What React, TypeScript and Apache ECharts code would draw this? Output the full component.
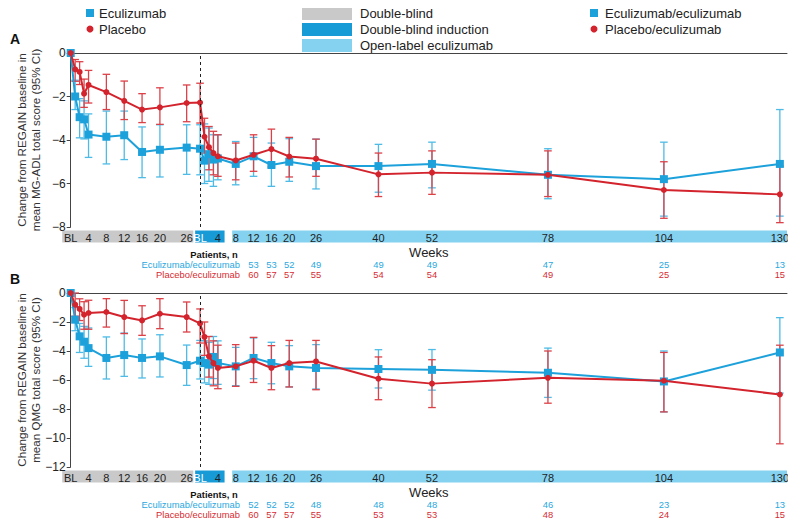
import React, { useEffect, useRef } from "react";
import * as echarts from "echarts";

const OLE_OFFSET = 29;
const X_MAX = 160.6;
const dbWeeks = [0, 1, 2, 3, 4, 8, 12, 16, 20, 26];
const oleWeeks = [0, 1, 2, 3, 4, 8, 12, 16, 20, 26, 40, 52, 78, 104, 130];
const dbTickWeeks = [0, 4, 8, 12, 16, 20, 26];
const oleTickWeeks = [0, 4, 8, 12, 16, 20, 26, 40, 52, 78, 104, 130];
const countWeeks = [12, 16, 20, 26, 40, 52, 78, 104, 130];

// Panel A (MG-ADL)
const aEcuDbMean = [0, -2.0, -2.95, -3.05, -3.75, -3.85, -3.78, -4.55, -4.45, -4.35];
const aEcuDbHi = [0, -1.25, -2.1, -2.2, -2.8, -2.67, -2.67, -3.4, -3.3, -3.3];
const aEcuDbLo = [0, -2.6, -3.9, -3.95, -4.8, -5.1, -4.9, -5.73, -5.7, -5.58];
const aEcuOleMean = [-4.4, -4.95, -4.65, -4.9, -4.85, -5.1, -4.75, -5.15, -5.0, -5.2, -5.2, -5.1, -5.6, -5.8, -5.1];
const aEcuOleHi = [-3.3, -3.26, -3.45, -3.76, -3.76, -4.07, -3.88, -4.14, -3.94, -3.96, -4.2, -4.1, -4.4, -4.1, -2.6];
const aEcuOleLo = [-5.6, -6.0, -5.9, -6.13, -5.83, -6.06, -5.67, -6.13, -5.9, -6.25, -6.4, -6.2, -6.7, -7.5, -7.5];
const aPlaDbMean = [0, -0.75, -0.87, -1.87, -1.47, -1.8, -2.2, -2.6, -2.5, -2.3];
const aPlaDbHi = [0, -0.3, -0.4, -1.2, -0.8, -0.98, -1.29, -1.87, -1.6, -1.47];
const aPlaDbLo = [0, -1.3, -1.45, -2.5, -2.3, -2.6, -3.06, -3.2, -3.28, -3.16];
const aPlaOleMean = [-2.28, -3.85, -4.33, -4.6, -4.75, -4.94, -4.68, -4.42, -4.76, -4.86, -5.58, -5.5, -5.6, -6.3, -6.5];
const aPlaOleHi = [-1.39, -3.0, -3.38, -3.6, -3.76, -4.14, -3.76, -3.5, -3.88, -3.96, -4.6, -4.5, -4.5, -5.0, -5.2];
const aPlaOleLo = [-3.22, -4.6, -5.37, -5.6, -5.67, -5.83, -5.44, -5.24, -5.7, -5.67, -6.6, -6.5, -6.6, -7.6, -7.8];
const aEcuCounts = [53, 53, 52, 49, 49, 49, 47, 25, 13];
const aPlaCounts = [60, 57, 57, 55, 54, 54, 49, 25, 15];

// Panel B (QMG)
const bEcuDbMean = [0, -1.84, -2.99, -3.36, -3.8, -4.48, -4.28, -4.48, -4.37, -4.97];
const bEcuDbHi = [0, -1.0, -2.1, -2.3, -2.41, -3.03, -2.76, -3.17, -2.88, -3.59];
const bEcuDbLo = [0, -2.6, -4.1, -4.5, -5.06, -5.93, -5.75, -5.86, -5.79, -6.37];
const bEcuOleMean = [-4.67, -4.83, -4.94, -4.41, -4.83, -5.06, -4.48, -4.83, -5.06, -5.17, -5.24, -5.3, -5.5, -6.1, -4.1];
const bEcuOleHi = [-3.27, -3.3, -3.4, -3.0, -3.3, -3.75, -3.1, -3.4, -3.63, -3.56, -3.91, -3.9, -3.8, -4.0, -1.7];
const bEcuOleLo = [-5.93, -6.2, -6.3, -5.9, -6.3, -6.39, -5.91, -6.26, -6.48, -6.62, -6.55, -6.7, -7.2, -8.2, -6.9];
const bPlaDbMean = [0, -0.8, -1.1, -1.5, -1.38, -1.31, -1.66, -1.89, -1.43, -1.66];
const bPlaDbHi = [0, 0, -0.4, -0.6, -0.5, -0.39, -0.51, -0.88, -0.39, -0.62];
const bPlaDbLo = [0, -1.6, -1.9, -2.5, -2.5, -2.35, -2.8, -2.92, -2.46, -2.69];
const bPlaOleMean = [-2.1, -3.03, -4.37, -4.83, -5.17, -5.06, -4.67, -5.17, -4.83, -4.72, -5.91, -6.25, -5.85, -6.05, -7.0];
const bPlaOleHi = [-1.1, -2.0, -3.0, -3.3, -3.6, -3.56, -3.06, -3.63, -3.27, -3.27, -4.41, -4.6, -4.0, -4.1, -3.6];
const bPlaOleLo = [-3.45, -4.3, -5.8, -6.4, -6.6, -6.44, -6.17, -6.67, -6.48, -6.67, -7.36, -7.9, -7.6, -8.2, -10.4];
const bEcuCounts = [52, 52, 52, 48, 48, 48, 46, 23, 13];
const bPlaCounts = [60, 57, 57, 55, 53, 53, 48, 24, 15];

const BLUE = "#1DA1DB";
const BLUE_BAR = "#4DBBE6";
const RED = "#D3232D";
const RED_BAR = "#DC4148";
const BLUE_TXT = "#2AA8E0";
const RED_TXT = "#D72B33";
const GRAY_BAND = "#C9C9C9";
const DARK_BAND = "#179BD7";
const LIGHT_BAND = "#84D2F0";
const FONT = "Liberation Sans";

const GRID_LEFT = 70.7;
const GRID_RIGHT = 9;
const GRID_H = 174;
const panels = [
  { top: 53, min: -8, title: "Change from REGAIN baseline in\nmean MG-ADL total score (95% CI)", letter: "A" },
  { top: 293, min: -12, title: "Change from REGAIN baseline in\nmean QMG total score (95% CI)", letter: "B" },
];

function xs(db: number[], ole: number[]) {
  return [...db, ...ole.map((w) => w + OLE_OFFSET)];
}
function joinSeries(dbW: number[], oleW: number[], db: number[], ole: number[]) {
  const x = xs(dbW, oleW);
  const v = [...db, ...ole];
  return x.map((xx, i) => [xx, v[i]]);
}
function joinBars(dbW: number[], oleW: number[], hiDb: number[], loDb: number[], hiOle: number[], loOle: number[]) {
  const x = xs(dbW, oleW);
  const hi = [...hiDb, ...hiOle];
  const lo = [...loDb, ...loOle];
  return x.map((xx, i) => [xx, hi[i], lo[i]]).filter((d) => d[1] !== d[2]);
}

function errSeries(gi: number, data: number[][], color: string) {
  return {
    type: "custom",
    xAxisIndex: gi * 2,
    yAxisIndex: gi,
    data,
    silent: true,
    z: 2,
    clip: false,
    renderItem: (params: any, api: any) => {
      const x = api.value(0);
      const p1 = api.coord([x, api.value(1)]);
      const p2 = api.coord([x, api.value(2)]);
      const w = 3.8;
      const st = { stroke: color, lineWidth: 1.3 };
      return {
        type: "group",
        children: [
          { type: "line", shape: { x1: p1[0], y1: p1[1], x2: p2[0], y2: p2[1] }, style: st },
          { type: "line", shape: { x1: p1[0] - w, y1: p1[1], x2: p1[0] + w, y2: p1[1] }, style: st },
          { type: "line", shape: { x1: p2[0] - w, y1: p2[1], x2: p2[0] + w, y2: p2[1] }, style: st },
        ],
      };
    },
  };
}

function lineSeries(gi: number, data: number[][], color: string, symbol: string, size: number, z: number, mark: boolean) {
  const s: any = {
    type: "line",
    xAxisIndex: gi * 2,
    yAxisIndex: gi,
    data,
    symbol,
    symbolSize: size,
    showSymbol: true,
    lineStyle: { color, width: 2 },
    itemStyle: { color },
    z,
    silent: true,
  };
  if (mark) {
    s.markLine = {
      silent: true,
      symbol: "none",
      label: { show: false },
      lineStyle: { color: "#222", type: [3, 3], width: 1 },
      data: [{ xAxis: OLE_OFFSET }],
    };
  }
  return s;
}

const tickVals = [...dbTickWeeks, ...oleTickWeeks.map((w) => w + OLE_OFFSET)];
function labelFor(v: number) {
  const w = v >= OLE_OFFSET - 0.01 ? v - OLE_OFFSET : v;
  return Math.abs(w) < 1e-6 ? "BL" : String(Math.round(w));
}

export default function App() {
  const ref = useRef<HTMLDivElement>(null);
  useEffect(() => {
    if (!ref.current) return;
    const chart = echarts.init(ref.current, undefined, { renderer: "svg" });
    const grid: any[] = [];
    const xAxis: any[] = [];
    const yAxis: any[] = [];
    panels.forEach((p, gi) => {
      grid.push({ left: GRID_LEFT, right: GRID_RIGHT, top: p.top, height: GRID_H, outerBoundsMode: "none", containLabel: false });
      xAxis.push({
        gridIndex: gi,
        type: "value",
        min: 0,
        max: X_MAX,
        position: "bottom",
        axisLine: { show: false },
        splitLine: { show: false },
        axisTick: { show: false },
        axisLabel: {
          customValues: tickVals,
          formatter: (v: number) => labelFor(v),
          fontSize: 11,
          fontFamily: FONT,
          margin: 5,
          color: (v: number) => (Math.abs(v - OLE_OFFSET) < 0.01 ? "#ffffff" : "#222"),
        },
        name: "Weeks",
        nameLocation: "middle",
        nameGap: 18.5,
        nameMoveOverlap: false,
        nameTextStyle: { fontSize: 13, fontFamily: FONT, color: "#222" },
      });
      xAxis.push({
        gridIndex: gi,
        type: "value",
        min: 0,
        max: X_MAX,
        position: "top",
        axisLine: { show: true, lineStyle: { color: "#444", width: 1 } },
        axisTick: { show: false },
        axisLabel: { show: false },
        splitLine: { show: false },
      });
      yAxis.push({
        gridIndex: gi,
        type: "value",
        min: p.min,
        max: 0,
        interval: 2,
        axisLine: { show: true, lineStyle: { color: "#444", width: 1 } },
        axisTick: { show: true, length: 4, lineStyle: { color: "#444" } },
        splitLine: { show: false },
        axisLabel: {
          formatter: (v: number) => (v === 0 ? "0" : "\u2212" + Math.abs(v)),
          fontSize: 12,
          fontFamily: FONT,
          color: "#222",
          margin: 5,
        },
        name: p.title,
        nameLocation: "middle",
        nameGap: 28,
        nameMoveOverlap: false,
        nameTextStyle: { fontSize: 11.6, lineHeight: 14, fontFamily: FONT, color: "#333" },
      });
    });

    const series: any[] = [
      errSeries(0, joinBars(dbWeeks, oleWeeks, aEcuDbHi, aEcuDbLo, aEcuOleHi, aEcuOleLo), BLUE_BAR),
      errSeries(0, joinBars(dbWeeks, oleWeeks, aPlaDbHi, aPlaDbLo, aPlaOleHi, aPlaOleLo), RED_BAR),
      lineSeries(0, joinSeries(dbWeeks, oleWeeks, aEcuDbMean, aEcuOleMean), BLUE, "rect", 8, 3, false),
      lineSeries(0, joinSeries(dbWeeks, oleWeeks, aPlaDbMean, aPlaOleMean), RED, "circle", 6, 4, true),
      errSeries(1, joinBars(dbWeeks, oleWeeks, bEcuDbHi, bEcuDbLo, bEcuOleHi, bEcuOleLo), BLUE_BAR),
      errSeries(1, joinBars(dbWeeks, oleWeeks, bPlaDbHi, bPlaDbLo, bPlaOleHi, bPlaOleLo), RED_BAR),
      lineSeries(1, joinSeries(dbWeeks, oleWeeks, bEcuDbMean, bEcuOleMean), BLUE, "rect", 8, 3, false),
      lineSeries(1, joinSeries(dbWeeks, oleWeeks, bPlaDbMean, bPlaOleMean), RED, "circle", 6, 4, true),
    ];

    chart.setOption({
      animation: false,
      textStyle: { fontFamily: FONT },
      grid,
      xAxis,
      yAxis,
      series,
    });

    const px = (gi: number, v: number) => chart.convertToPixel({ xAxisIndex: gi * 2 }, v) as number;
    const graphics: any[] = [];
    const counts = [
      [aEcuCounts, aPlaCounts],
      [bEcuCounts, bPlaCounts],
    ];
    panels.forEach((p, gi) => {
      const bottom = p.top + GRID_H;
      const bandTop = bottom + 3.5;
      const bandH = 12;
      const bands = [
        { a: -1.9, b: 27.5, c: GRAY_BAND },
        { a: 27.9, b: 34.5, c: DARK_BAND },
        { a: 36.2, b: X_MAX, c: LIGHT_BAND },
      ];
      bands.forEach((bd) => {
        const x1 = px(gi, bd.a);
        const x2 = px(gi, bd.b);
        graphics.push({
          type: "rect",
          shape: { x: x1, y: bandTop, width: x2 - x1, height: bandH },
          style: { fill: bd.c },
          z: -1,
          silent: true,
        });
      });
      graphics.push({
        type: "text",
        x: 10,
        y: p.top - 14,
        style: { text: p.letter, font: `bold 14px ${FONT}`, fill: "#111", verticalAlign: "middle" },
      });
      const yP = bottom + 27;
      const r1 = yP + 10;
      const r2 = yP + 20;
      graphics.push({
        type: "text",
        x: 214,
        y: yP,
        style: { text: "Patients, n", font: `bold 9.4px ${FONT}`, fill: "#111", align: "center", verticalAlign: "middle" },
      });
      graphics.push({
        type: "text",
        x: 240,
        y: r1,
        style: { text: "Eculizumab/eculizumab", font: `9.4px ${FONT}`, fill: BLUE_TXT, align: "right", verticalAlign: "middle" },
      });
      graphics.push({
        type: "text",
        x: 240,
        y: r2,
        style: { text: "Placebo/eculizumab", font: `9.4px ${FONT}`, fill: RED_TXT, align: "right", verticalAlign: "middle" },
      });
      countWeeks.forEach((w, i) => {
        const x = px(gi, w + OLE_OFFSET);
        graphics.push({
          type: "text",
          x,
          y: r1,
          style: { text: String(counts[gi][0][i]), font: `9.4px ${FONT}`, fill: BLUE_TXT, align: "center", verticalAlign: "middle" },
        });
        graphics.push({
          type: "text",
          x,
          y: r2,
          style: { text: String(counts[gi][1][i]), font: `9.4px ${FONT}`, fill: RED_TXT, align: "center", verticalAlign: "middle" },
        });
      });
    });

    // Legends
    const legText = (x: number, y: number, t: string) => ({
      type: "text",
      x,
      y,
      style: { text: t, font: `13px ${FONT}`, fill: "#222", verticalAlign: "middle" },
    });
    graphics.push({ type: "rect", shape: { x: 86, y: 9, width: 8, height: 8 }, style: { fill: BLUE } });
    graphics.push(legText(99, 13.5, "Eculizumab"));
    graphics.push({ type: "circle", shape: { cx: 90, cy: 29, r: 3.5 }, style: { fill: RED } });
    graphics.push(legText(99, 29.5, "Placebo"));

    graphics.push({ type: "rect", shape: { x: 302, y: 7, width: 50, height: 13 }, style: { fill: GRAY_BAND } });
    graphics.push(legText(360, 13.5, "Double-blind"));
    graphics.push({ type: "rect", shape: { x: 302, y: 23, width: 50, height: 13 }, style: { fill: DARK_BAND } });
    graphics.push(legText(360, 29.5, "Double-blind induction"));
    graphics.push({ type: "rect", shape: { x: 302, y: 39, width: 50, height: 13 }, style: { fill: LIGHT_BAND } });
    graphics.push(legText(360, 45.5, "Open-label eculizumab"));

    graphics.push({ type: "rect", shape: { x: 590, y: 9, width: 8, height: 8 }, style: { fill: BLUE } });
    graphics.push(legText(605, 13.5, "Eculizumab/eculizumab"));
    graphics.push({ type: "circle", shape: { cx: 594, cy: 29, r: 3.5 }, style: { fill: RED } });
    graphics.push(legText(605, 29.5, "Placebo/eculizumab"));

    chart.setOption({ graphic: graphics });

    return () => chart.dispose();
  }, []);
  return <div ref={ref} style={{ width: 796, height: 526, margin: -8 }} />;
}
